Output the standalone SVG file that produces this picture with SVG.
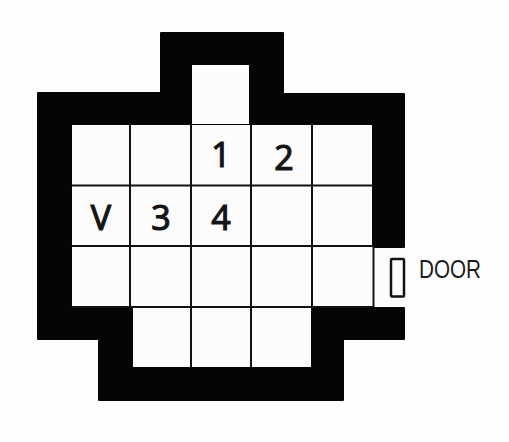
<svg xmlns="http://www.w3.org/2000/svg" width="509" height="442" viewBox="0 0 509 442">
<style>
.wall{fill:#050505;stroke:#050505;stroke-width:2;stroke-linejoin:round}
.room{fill:#fcfcfc}
.grid{stroke:#111;stroke-width:2;fill:none}
.num{font-family:"Open Sans","Liberation Sans",sans-serif;font-size:34px;fill:#151515;stroke:#151515;stroke-width:1.200;text-anchor:middle}
.lab{font-family:"Liberation Sans",Arial,sans-serif;font-size:25px;fill:#1c1c1c}
</style>
<rect width="509" height="442" fill="#fefefe"/>
<path class="wall" d="M161 33H283V94H404V247H373V308H404V339H343V400H99V339H38V93H161Z"/>
<rect class="room" x="192" y="65" width="57" height="59"/>
<path class="room" d="M72 125H372V246H374V307H311V367H133V307H72Z"/>
<rect class="room" x="374" y="249" width="32" height="57"/>
<path class="grid" d="M130 125V307M191 124V367M251 125V367M312 125V308M373.500 246V307M71 185.500H372M71 246H374M71 307H373"/>
<rect x="391" y="259" width="13" height="37.500" fill="#fcfcfc" stroke="#111" stroke-width="2.500" rx="1"/>
<text class="num" x="101" y="230">V</text>
<text class="num" x="161" y="230">3</text>
<text class="num" x="221" y="230">4</text>
<text class="num" x="221" y="167">1</text>
<text class="num" x="284" y="170">2</text>
<text class="lab" x="419" y="278" textLength="62" lengthAdjust="spacingAndGlyphs">DOOR</text>
</svg>
